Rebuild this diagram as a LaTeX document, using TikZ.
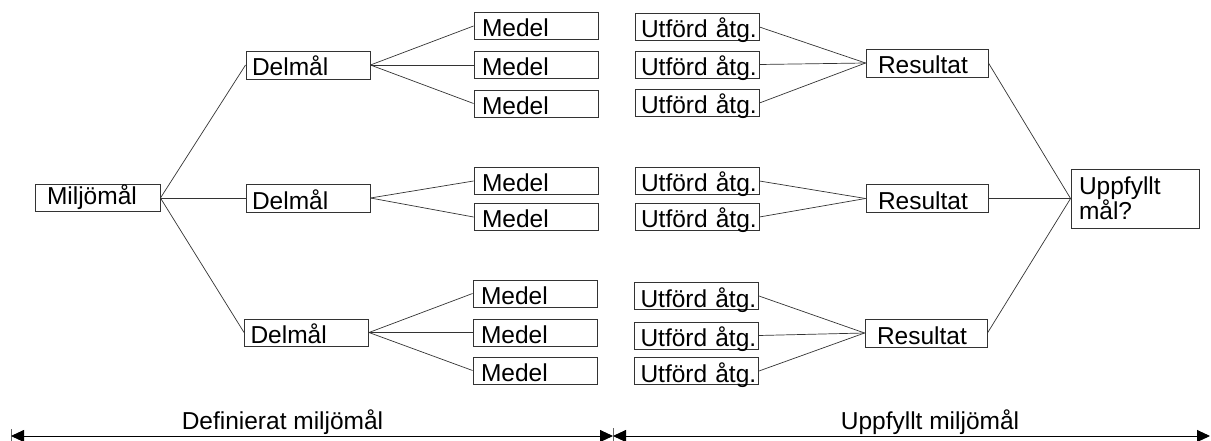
\documentclass[tikz,border=0pt]{standalone}
\usepackage{fontspec}
\setmainfont{Liberation Sans}
\usetikzlibrary{arrows.meta}
\begin{document}
\begin{tikzpicture}[x=1pt,y=-1pt,
  every node/.style={font=\fontsize{24.5}{25}\selectfont},
  box/.style={draw=black!80, line width=0.9pt, rectangle, align=left, inner ysep=0pt,
    text height=22pt, text depth=0pt},
  medelbox/.style={box, text width=108pt, inner xsep=8pt, minimum height=27pt},
  utbox/.style={box, text width=112pt, inner xsep=6pt, minimum height=27pt},
  delbox/.style={box, text width=112pt, inner xsep=6pt, minimum height=28pt},
  resbox/.style={box, text width=98pt, inner xsep=12pt, minimum height=28pt},
  link/.style={draw=black!80, line width=0.7pt},
  dim/.style={draw=black, line width=0.9pt, {Triangle[length=13pt,width=12pt]}-{Triangle[length=13pt,width=12pt]}},
  tick/.style={draw=black!60, line width=0.7pt}
]
\useasboundingbox (0,0) rectangle (1211,441);

% left part
\node[box, text width=101pt, inner xsep=12pt, minimum height=27pt, text height=18pt, text depth=5pt] (M) at (97.5,198) {Miljömål};
\node[delbox] (D1) at (308,65) {Delmål};
\node[delbox] (D2) at (308,198) {Delmål};
\node[delbox, minimum height=27pt] (D3) at (306.5,332.5) {Delmål};

\node[medelbox] (m11) at (536,26) {Medel};
\node[medelbox] (m12) at (536,65) {Medel};
\node[medelbox] (m13) at (536,103.5) {Medel};
\node[medelbox] (m21) at (536,181) {Medel};
\node[medelbox] (m22) at (536,217) {Medel};
\node[medelbox] (m31) at (535,293.5) {Medel};
\node[medelbox] (m32) at (535,332.5) {Medel};
\node[medelbox] (m33) at (535,370.5) {Medel};

% right part
\node[utbox] (u11) at (697,27) {\mbox{Utförd åtg.}};
\node[utbox] (u12) at (697,64.5) {\mbox{Utförd åtg.}};
\node[utbox] (u13) at (697,103) {\mbox{Utförd åtg.}};
\node[utbox] (u21) at (697,181) {\mbox{Utförd åtg.}};
\node[utbox] (u22) at (697,217) {\mbox{Utförd åtg.}};
\node[utbox] (u31) at (696.5,296) {\mbox{Utförd åtg.}};
\node[utbox] (u32) at (696.5,335.5) {\mbox{Utförd åtg.}};
\node[utbox] (u33) at (696.5,371) {\mbox{Utförd åtg.}};

\node[resbox] (R1) at (927,63) {Resultat};
\node[resbox] (R2) at (927,198.5) {Resultat};
\node[resbox] (R3) at (926,333) {Resultat};

\node[draw=black!80, line width=0.9pt, rectangle, align=left, text width=112pt, inner xsep=8pt, inner ysep=0pt, minimum height=59pt] (U) at (1135,198.5) {Uppfyllt\\mål?};

% connectors
\foreach \d in {D1,D2,D3} \draw[link] (M.east) -- (\d.west);
\foreach \m in {m11,m12,m13} \draw[link] (D1.east) -- (\m.west);
\foreach \m in {m21,m22} \draw[link] (D2.east) -- (\m.west);
\foreach \m in {m31,m32,m33} \draw[link] (D3.east) -- (\m.west);
\foreach \u in {u11,u12,u13} \draw[link] (\u.east) -- (R1.west);
\foreach \u in {u21,u22} \draw[link] (\u.east) -- (R2.west);
\foreach \u in {u31,u32,u33} \draw[link] (\u.east) -- (R3.west);
\foreach \r in {R1,R2,R3} \draw[link] (\r.east) -- (U.west);

% bottom dimension arrows
\coordinate (L) at (11,436);
\coordinate (J) at (613,436);
\coordinate (Rr) at (1210,436);
\coordinate (Lt) at (11,429);
\coordinate (Lb) at (11,441);
\coordinate (Jt) at (613,428);
\coordinate (Jb) at (613,441);
\draw[tick] (Lt) -- (Lb);
\draw[tick] (Jt) -- (Jb);
\draw[dim] (L) -- (J);
\draw[dim] (J) -- (Rr);
\node[anchor=base, inner sep=0pt] (t1) at (282.5,429) {Definierat miljömål};
\node[anchor=base, inner sep=0pt] (t2) at (930,429) {Uppfyllt miljömål};
\end{tikzpicture}
\end{document}
